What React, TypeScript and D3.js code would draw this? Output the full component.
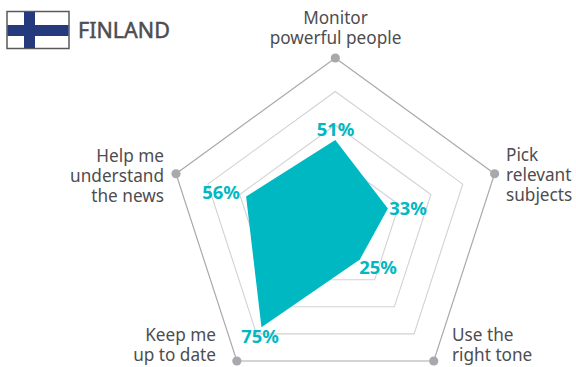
import React from "react";
import * as d3 from "d3";

const categories = ["Monitor powerful people", "Pick relevant subjects", "Use the right tone", "Keep me up to date", "Help me understand the news"];
const values = [51, 33, 25, 75, 56];
const rings = [20, 40, 60, 80];
const W = 576, H = 367, cx = 335.3, cy = 225.5, R = 167.5;

const labelLines = [["Monitor", "powerful people"], ["Pick", "relevant", "subjects"], ["Use the", "right tone"], ["Keep me", "up to date"], ["Help me", "understand", "the news"]];
const labelX = [335.5, 506, 452, 216, 164];
const labelY = [24, 161, 341, 341, 162];
const labelAnchor = ["middle", "start", "start", "end", "end"];
const valueX = [335.5, 408, 378, 260, 221];
const valueY = [136, 215, 274, 343, 199];
const LH = 19.8;

const r = d3.scaleLinear().domain([0, 100]).range([0, R]);
const angle = d3.scalePoint<string>().domain(categories).range([0, (2 * Math.PI * 4) / 5]);
const lr = d3.lineRadial<number>().angle((_, i) => angle(categories[i])!).radius((d) => r(d)).curve(d3.curveLinearClosed);
const font = "'Noto Sans', sans-serif";

export default function App() {
  const axes = categories.map((c) => {
    const a = angle(c)!;
    return [r(100) * Math.sin(a), -r(100) * Math.cos(a)];
  });
  return (
    <svg width={W} height={H} viewBox={`0 0 ${W} ${H}`} style={{ position: "absolute", left: 0, top: 0, background: "#fff" }}>
      <g>
        <rect x={7} y={11.5} width={62} height={37} fill="#fff" stroke="#58595b" strokeWidth={1.5} />
        <rect x={24} y={12} width={11} height={36} fill="#253a7d" />
        <rect x={7.5} y={25} width={61} height={11} fill="#253a7d" />
        <text x={78} y={38} fontFamily={font} fontSize={21.5} fill="#4d4d4f" stroke="#4d4d4f" strokeWidth={0.5}>FINLAND</text>
      </g>
      <g transform={`translate(${cx},${cy})`}>
        {rings.map((v) => (
          <path key={v} d={lr(categories.map(() => v)) ?? ""} fill="none" stroke="#d1d2d4" strokeWidth={1.1} />
        ))}
        <path d={lr(categories.map(() => 100)) ?? ""} fill="none" stroke="#a7a9ac" strokeWidth={1.2} />
        {axes.map(([x, y], i) => (
          <circle key={i} cx={x} cy={y} r={4.6} fill="#a7a9ac" />
        ))}
        <path d={lr(values) ?? ""} fill="#00b8c1" />
      </g>
      {labelLines.map((lines, i) => (
        <text key={i} textAnchor={labelAnchor[i] as "start"} fontFamily={font} fontSize={17.2} fill="#4d4d4f">
          {lines.map((l, j) => (
            <tspan key={j} x={labelX[i]} y={labelY[i] + j * LH}>{l}</tspan>
          ))}
        </text>
      ))}
      {values.map((v, i) => (
        <text key={i} x={valueX[i]} y={valueY[i]} textAnchor="middle" fontFamily={font} fontSize={18.4} fontWeight={700} fill="#00b8c1">{v}%</text>
      ))}
    </svg>
  );
}
